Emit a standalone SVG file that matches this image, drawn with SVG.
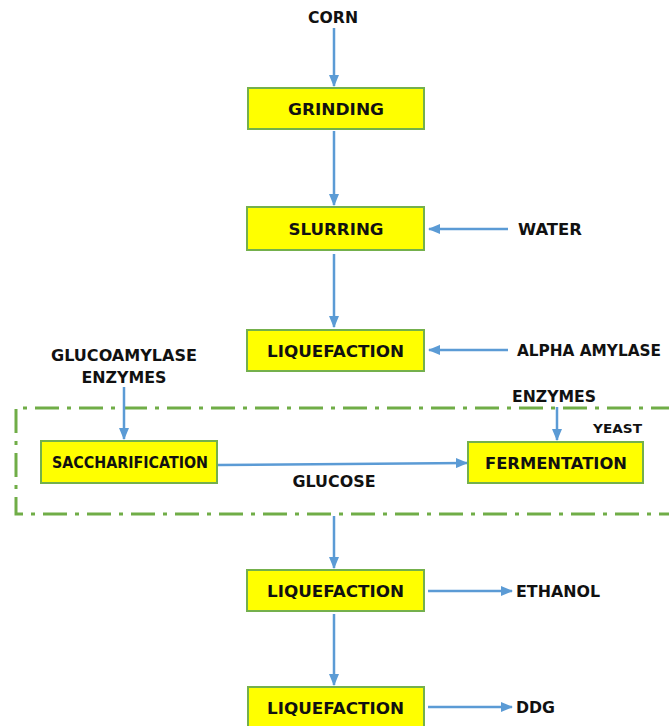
<svg xmlns="http://www.w3.org/2000/svg" width="669" height="726" viewBox="0 0 669 726">
<defs>
<marker id="ah" markerWidth="12" markerHeight="10" refX="11" refY="5" orient="auto" markerUnits="userSpaceOnUse">
<path d="M0,0 L12,5 L0,10 Z" fill="#5B9BD5"/>
</marker>
<style>
.box{fill:#FFFF00;stroke:#74B04C;stroke-width:2}
.t{font-family:"DejaVu Sans",Verdana,sans-serif;font-weight:bold;font-size:16.5px;fill:#111111}
.c{stroke:#5B9BD5;stroke-width:2.5;fill:none;marker-end:url(#ah)}
.grp{fill:none;stroke:#70AD47;stroke-width:3;stroke-dasharray:24 8 4 8}
</style>
</defs>
<rect width="669" height="726" fill="#FFFFFF"/>
<path class="grp" d="M675,408 H16 V514 H675"/>
<g id="connectors">
<line class="c" x1="334" y1="28" x2="334" y2="86"/>
<line class="c" x1="334" y1="131" x2="334" y2="205"/>
<line class="c" x1="334" y1="254" x2="334" y2="327"/>
<line class="c" x1="508" y1="229" x2="429" y2="229"/>
<line class="c" x1="508" y1="350" x2="429" y2="350"/>
<line class="c" x1="124" y1="387" x2="124" y2="439"/>
<line class="c" x1="557" y1="407" x2="557" y2="440"/>
<line class="c" x1="218" y1="465" x2="467" y2="463"/>
<line class="c" x1="334" y1="516" x2="334" y2="568"/>
<line class="c" x1="428" y1="591" x2="512" y2="591"/>
<line class="c" x1="334" y1="614" x2="334" y2="685"/>
<line class="c" x1="428" y1="707" x2="512" y2="707"/>
</g>
<g id="corn"><text class="t" x="333" y="23" text-anchor="middle" textLength="50" lengthAdjust="spacingAndGlyphs">CORN</text></g>
<g id="grinding"><rect class="box" x="248" y="88" width="176" height="41"/><text class="t" x="336" y="114.5" text-anchor="middle" textLength="96" lengthAdjust="spacingAndGlyphs">GRINDING</text></g>
<g id="slurring"><rect class="box" x="247" y="207" width="177" height="43"/><text class="t" x="336" y="234.5" text-anchor="middle" textLength="95" lengthAdjust="spacingAndGlyphs">SLURRING</text></g>
<g id="water"><text class="t" x="518" y="235" textLength="64" lengthAdjust="spacingAndGlyphs">WATER</text></g>
<g id="liquefaction1"><rect class="box" x="247" y="330" width="177" height="41"/><text class="t" x="335.5" y="356.5" text-anchor="middle" textLength="137" lengthAdjust="spacingAndGlyphs">LIQUEFACTION</text></g>
<g id="alpha"><text class="t" x="517" y="356" style="font-size:15.2px" textLength="144" lengthAdjust="spacingAndGlyphs">ALPHA AMYLASE</text></g>
<g id="glucoamylase"><text class="t" x="124" y="361" text-anchor="middle" textLength="146" lengthAdjust="spacingAndGlyphs">GLUCOAMYLASE</text><text class="t" x="124" y="383" text-anchor="middle" textLength="85" lengthAdjust="spacingAndGlyphs">ENZYMES</text></g>
<g id="enzymes"><text class="t" x="554" y="402" text-anchor="middle" textLength="84" lengthAdjust="spacingAndGlyphs">ENZYMES</text></g>
<g id="yeast"><text class="t" x="593" y="433" style="font-size:13px" textLength="49" lengthAdjust="spacingAndGlyphs">YEAST</text></g>
<g id="saccharification"><rect class="box" x="41" y="441" width="176" height="42"/><text class="t" x="130" y="467.5" text-anchor="middle" textLength="156" lengthAdjust="spacingAndGlyphs">SACCHARIFICATION</text></g>
<g id="fermentation"><rect class="box" x="468" y="442" width="175" height="41"/><text class="t" x="556" y="468.5" text-anchor="middle" textLength="142" lengthAdjust="spacingAndGlyphs">FERMENTATION</text></g>
<g id="glucose"><text class="t" x="334" y="487" text-anchor="middle" textLength="83" lengthAdjust="spacingAndGlyphs">GLUCOSE</text></g>
<g id="liquefaction2"><rect class="box" x="247" y="570" width="177" height="41"/><text class="t" x="335.5" y="596.5" text-anchor="middle" textLength="137" lengthAdjust="spacingAndGlyphs">LIQUEFACTION</text></g>
<g id="ethanol"><text class="t" x="516" y="597" textLength="84" lengthAdjust="spacingAndGlyphs">ETHANOL</text></g>
<g id="liquefaction3"><rect class="box" x="248" y="687" width="176" height="41"/><text class="t" x="335.5" y="713.5" text-anchor="middle" textLength="137" lengthAdjust="spacingAndGlyphs">LIQUEFACTION</text></g>
<g id="ddg"><text class="t" x="516" y="713" textLength="39" lengthAdjust="spacingAndGlyphs">DDG</text></g>
</svg>
